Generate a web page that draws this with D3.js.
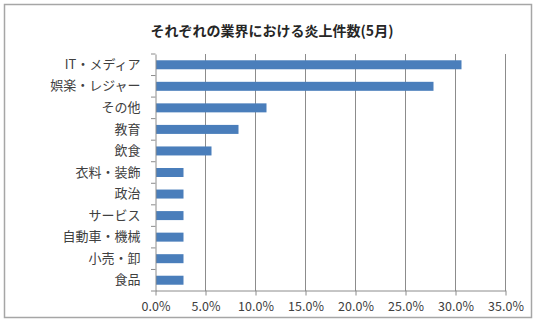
<!DOCTYPE html>
<html><head><meta charset="utf-8">
<script src="https://cdn.jsdelivr.net/npm/d3@7"></script>
<style>html,body{margin:0;padding:0;background:#fff;}svg{display:block;}</style>
</head><body>
<svg id="c" width="536" height="323"></svg>
<script>
const title = "それぞれの業界における炎上件数(5月)";
const categories = ["IT・メディア","娯楽・レジャー","その他","教育","飲食","衣料・装飾","政治","サービス","自動車・機械","小売・卸","食品"];
const values = [30.6, 27.8, 11.1, 8.3, 5.6, 2.8, 2.8, 2.8, 2.8, 2.8, 2.8];
const xTicks = [0,5,10,15,20,25,30,35];

const svg = d3.select("#c");
const font = "'Noto Sans CJK JP', 'Noto Sans', sans-serif";

svg.append("rect").attr("x",4.5).attr("y",4.5).attr("width",527).attr("height",313)
  .attr("fill","#fff").attr("stroke","#a6a6a6").attr("stroke-width",1.5);

svg.append("text").attr("x",272).attr("y",32).attr("text-anchor","middle")
  .attr("dominant-baseline","middle").attr("font-family",font).attr("font-weight","bold")
  .attr("font-size",14).attr("fill","#262626").text(title);

const x = d3.scaleLinear().domain([0,35]).range([155.5,505.5]);
const yb = d3.scaleBand().domain(categories).range([54,291]);

// gridlines
svg.append("g").selectAll("line").data(xTicks.slice(1)).join("line")
  .attr("x1",d=>x(d)).attr("x2",d=>x(d)).attr("y1",54).attr("y2",291)
  .attr("stroke","#8c8c8c").attr("stroke-width",1);

// bars
svg.append("g").selectAll("rect").data(values).join("rect")
  .attr("x",x(0)+0.5).attr("y",(d,i)=>yb(categories[i])+yb.bandwidth()/2-4.5)
  .attr("width",d=>x(d)-x(0)-0.5).attr("height",9).attr("fill","#4a7ebb");

// x axis
const xa = svg.append("g").attr("transform","translate(0,290.5)")
  .call(d3.axisBottom(x).tickValues(xTicks).tickFormat(d=>d.toFixed(1)+"%").tickSizeInner(5).tickSizeOuter(0).tickPadding(7));
xa.select(".domain").attr("stroke","#8c8c8c");
xa.selectAll(".tick line").attr("stroke","#8c8c8c");
xa.selectAll("text").attr("font-family",font).attr("font-size",12.5).attr("fill","#404040");

// y axis
const ya = svg.append("g").attr("transform","translate(155.5,0)")
  .call(d3.axisLeft(yb).tickSize(0).tickPadding(15));
ya.select(".domain").attr("stroke","#8c8c8c");
ya.selectAll("text").attr("font-family",font).attr("font-size",13).attr("fill","#404040");
// category boundary ticks
svg.append("g").selectAll("line").data(categories.concat(["end"])).join("line")
  .attr("x1",151).attr("x2",155.5)
  .attr("y1",(d,i)=>54+i*yb.step()).attr("y2",(d,i)=>54+i*yb.step())
  .attr("stroke","#8c8c8c");
</script>
</body></html>
